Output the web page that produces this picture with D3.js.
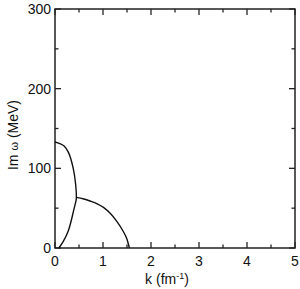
<!DOCTYPE html>
<html>
<head>
<meta charset="utf-8">
<script src="https://cdn.jsdelivr.net/npm/d3@7"></script>
<style>
  body { margin: 0; background: #fff; }
  text { font-family: 'Liberation Sans', Arial, sans-serif; fill: #111; }
</style>
</head>
<body>
<div id="chart"></div>
<script>
// branch 1: the closed loop near k = 0 (upper part then lower part)
let loopK = [0, 0.1, 0.19, 0.28, 0.38, 0.43, 0.445, 0.44, 0.40, 0.28, 0.17, 0.08]
let loopIm = [133, 131, 128, 120, 100, 80, 63, 60, 50, 22, 8, 0]
// branch 2: from the junction down to the real axis
let tailK = [0.44, 0.6, 0.73, 0.88, 1.01, 1.15, 1.28, 1.42, 1.5, 1.55]
let tailIm = [63.5, 61.5, 59, 55.5, 51, 43.5, 34, 21, 11, 0]

let xTicks = [0, 1, 2, 3, 4, 5]
let yTicks = [0, 100, 200, 300]

let w = 300, h = 289
let margin = { left: 55, right: 5, top: 9, bottom: 41 }

let svg = d3.select('#chart').append('svg').attr('width', w).attr('height', h)

let x = d3.scaleLinear().domain([0, 5]).range([margin.left, w - margin.right])
let y = d3.scaleLinear().domain([0, 300]).range([h - margin.bottom, margin.top])

let g = svg.append('g')
let minorX = d3.range(0, 5.01, 0.5)
let minorY = d3.range(0, 301, 50)

// ticks, pointing inward on all four sides
function tickLen (v, major) { return major.indexOf(v) >= 0 ? 6 : 3.5 }
minorX.forEach(v => {
  let l = tickLen(v, xTicks)
  g.append('line').attr('x1', x(v)).attr('x2', x(v)).attr('y1', y(0)).attr('y2', y(0) - l)
  g.append('line').attr('x1', x(v)).attr('x2', x(v)).attr('y1', y(300)).attr('y2', y(300) + l)
})
minorY.forEach(v => {
  let l = tickLen(v, yTicks)
  g.append('line').attr('y1', y(v)).attr('y2', y(v)).attr('x1', x(0)).attr('x2', x(0) + l)
  g.append('line').attr('y1', y(v)).attr('y2', y(v)).attr('x1', x(5)).attr('x2', x(5) - l)
})
g.selectAll('line').attr('stroke', '#222').attr('stroke-width', 1.3)

svg.append('rect')
  .attr('x', x(0)).attr('y', y(300))
  .attr('width', x(5) - x(0)).attr('height', y(0) - y(300))
  .attr('fill', 'none').attr('stroke', '#222').attr('stroke-width', 1.5)

svg.selectAll('.xl').data(xTicks).enter().append('text')
  .attr('x', d => x(d)).attr('y', y(0) + 18)
  .attr('text-anchor', 'middle').attr('font-size', '14px')
  .text(d => d)

svg.selectAll('.yl').data(yTicks).enter().append('text')
  .attr('x', x(0) - 4).attr('y', d => y(d) + 5)
  .attr('text-anchor', 'end').attr('font-size', '14px')
  .text(d => d)

let xt = svg.append('text')
  .attr('x', 167).attr('y', 284)
  .attr('text-anchor', 'middle').attr('font-size', '14px')
xt.append('tspan').text('k (fm')
xt.append('tspan').text('-1').attr('font-size', '9px').attr('dy', -5)
xt.append('tspan').text(')').attr('dy', 5)

let yt = svg.append('text')
  .attr('transform', `translate(18, 135) rotate(-90)`)
  .attr('text-anchor', 'middle').attr('font-size', '14px')
yt.append('tspan').text('Im ')
yt.append('tspan').text('ω').attr('font-size', '11px')
yt.append('tspan').text(' (MeV)')

let line = d3.line()
  .x(d => x(d[0])).y(d => y(d[1]))
  .curve(d3.curveCatmullRom.alpha(0.5))

svg.append('path')
  .attr('d', line(loopK.map((k, i) => [k, loopIm[i]])))
  .attr('fill', 'none').attr('stroke', '#111').attr('stroke-width', 1.4)

svg.append('path')
  .attr('d', line.curve(d3.curveMonotoneX)(tailK.map((k, i) => [k, tailIm[i]])))
  .attr('fill', 'none').attr('stroke', '#111').attr('stroke-width', 1.4)
</script>
</body>
</html>
